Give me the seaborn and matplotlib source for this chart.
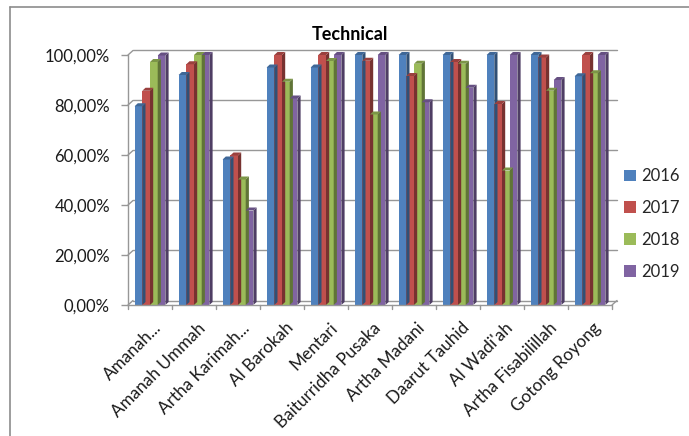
import numpy as np
import pandas as pd
import seaborn as sns
import matplotlib
matplotlib.use("Agg")
import matplotlib.pyplot as plt
from matplotlib.patches import Polygon, Patch
from matplotlib.lines import Line2D
from matplotlib.ticker import FuncFormatter
import matplotlib.colors as mcolors
import matplotlib.transforms as mtrans

# Technical efficiency scores (%) per institution and year
institutions = ["Amanah...", "Amanah Ummah", "Artha Karimah...", "Al Barokah", "Mentari",
                "Baiturridha Pusaka", "Artha Madani", "Daarut Tauhid", "Al Wadi'ah",
                "Artha Fisabilillah", "Gotong Royong"]
years = ["2016", "2017", "2018", "2019"]
score_2016 = [79.5, 92.0, 58.2, 95.0, 95.0, 100.0, 100.0, 100.0, 100.0, 100.0, 91.5]
score_2017 = [85.7, 96.3, 59.8, 100.0, 100.0, 97.7, 91.6, 97.2, 80.4, 99.0, 100.0]
score_2018 = [97.2, 100.0, 50.2, 89.3, 97.6, 76.2, 96.5, 96.5, 53.8, 85.7, 92.7]
score_2019 = [99.8, 100.0, 37.8, 82.6, 100.0, 100.0, 81.1, 86.9, 100.0, 90.0, 100.0]
colors = ["#4F81BD", "#C0504D", "#9BBB59", "#8064A2"]

series = [score_2016, score_2017, score_2018, score_2019]
df = pd.DataFrame({
    "Institution": np.repeat([institutions], 4, axis=0).ravel(),
    "Year": np.repeat(years, len(institutions)),
    "Score": np.concatenate(series) / 100.0,
})

sns.set_style("white")
plt.rcParams["font.family"] = ["Lato", "DejaVu Sans"]

W, H = 689, 436
fig = plt.figure(figsize=(W / 100, H / 100), dpi=100)
ax = fig.add_axes([128 / W, (H - 305) / H, 484 / W, 250 / H])

sns.barplot(data=df, x="Institution", y="Score", hue="Year", order=institutions,
            hue_order=years, palette=colors, width=0.7, saturation=1.0,
            legend=False, ax=ax, linewidth=0)

ax.set_xlim(-0.5, len(institutions) - 0.5)
ax.set_ylim(0, 1)

# pixel -> data scale for the pseudo-3D depth
px_x = (len(institutions)) / 484.0
px_y = 1.0 / 250.0
bar_dx, bar_dy = 3.2 * px_x, 3.0 * px_y
wall_dx, wall_dy = 5.0 * px_x, 4.5 * px_y

grid_c = "#979797"
x0, x1 = -0.5, len(institutions) - 0.5
# back wall gridlines with slanted joins to the front axis
for yv in np.arange(0, 1.01, 0.2):
    ax.plot([x0 + wall_dx, x1 + wall_dx], [yv + wall_dy, yv + wall_dy],
            color=grid_c, lw=1.0, zorder=0, clip_on=False)
    ax.plot([x0, x0 + wall_dx], [yv, yv + wall_dy], color=grid_c, lw=1.0,
            zorder=0, clip_on=False)
# floor edges
ax.plot([x0, x1], [0, 0], color=grid_c, lw=1.0, zorder=3, clip_on=False)
ax.plot([x1, x1 + wall_dx], [0, wall_dy], color=grid_c, lw=1.0, zorder=0, clip_on=False)

# side and top faces for each bar
bars = [p for p in ax.patches]
for p in bars:
    x, w, h = p.get_x(), p.get_width(), p.get_height()
    base = np.array(mcolors.to_rgb(p.get_facecolor()))
    side = base * 0.62
    top = base * 0.8
    p.set_clip_on(False)
    ax.add_patch(Polygon([(x + w, 0), (x + w, h), (x + w + bar_dx, h + bar_dy),
                          (x + w + bar_dx, bar_dy)], closed=True, facecolor=side,
                         edgecolor="none", zorder=p.get_zorder(), clip_on=False))
    ax.add_patch(Polygon([(x, h), (x + w, h), (x + w + bar_dx, h + bar_dy),
                          (x + bar_dx, h + bar_dy)], closed=True, facecolor=top,
                         edgecolor="none", zorder=p.get_zorder(), clip_on=False))

for s in ["top", "right", "bottom"]:
    ax.spines[s].set_visible(False)
ax.spines["left"].set_color(grid_c)
ax.spines["left"].set_linewidth(1.0)

ax.set_yticks(np.arange(0, 1.01, 0.2))
ax.yaxis.set_major_formatter(FuncFormatter(lambda v, _: f"{v * 100:.2f}%".replace(".", ",")))
ax.tick_params(axis="y", left=True, length=5, width=1.0, color=grid_c,
               labelsize=12, pad=8, labelcolor="#1a1a1a")

# category boundary ticks on the floor
for xb in np.arange(x0, x1 + 0.01, 1.0):
    ax.plot([xb, xb], [0, -4 * px_y], color=grid_c, lw=1.0, clip_on=False, zorder=3)
ax.tick_params(axis="x", bottom=False, length=0, pad=2)
ax.set_xticks(range(len(institutions)))
offset = mtrans.ScaledTranslation(3 / 100, -12 / 100, fig.dpi_scale_trans)
ax.set_xticklabels(institutions, rotation=45, ha="right", rotation_mode="anchor",
                   fontsize=12.3, color="#1a1a1a")
for lbl in ax.get_xticklabels():
    lbl.set_transform(lbl.get_transform() + offset)
ax.set_xlabel("")
ax.set_ylabel("")

fig.text(350 / W, 1 - 35 / H, "Technical", ha="center", va="center",
         fontsize=13, fontweight="bold", color="#000000")

handles = [Patch(facecolor=c, edgecolor="none") for c in colors]
fig.legend(handles, years, loc="center left", bbox_to_anchor=(624 / W, 1 - 224 / H),
           frameon=False, fontsize=12, handlelength=0.7, handleheight=0.7,
           handletextpad=0.35, labelspacing=0.95, borderpad=0, borderaxespad=0)

# outer chart border
fig.add_artist(Line2D([10 / W, 10 / W], [0, 1 - 7 / H], color="#8C8C8C", lw=1.2))
fig.add_artist(Line2D([10 / W, 1], [1 - 7 / H, 1 - 7 / H], color="#8C8C8C", lw=1.2))

fig.savefig("out.png", dpi=100)
